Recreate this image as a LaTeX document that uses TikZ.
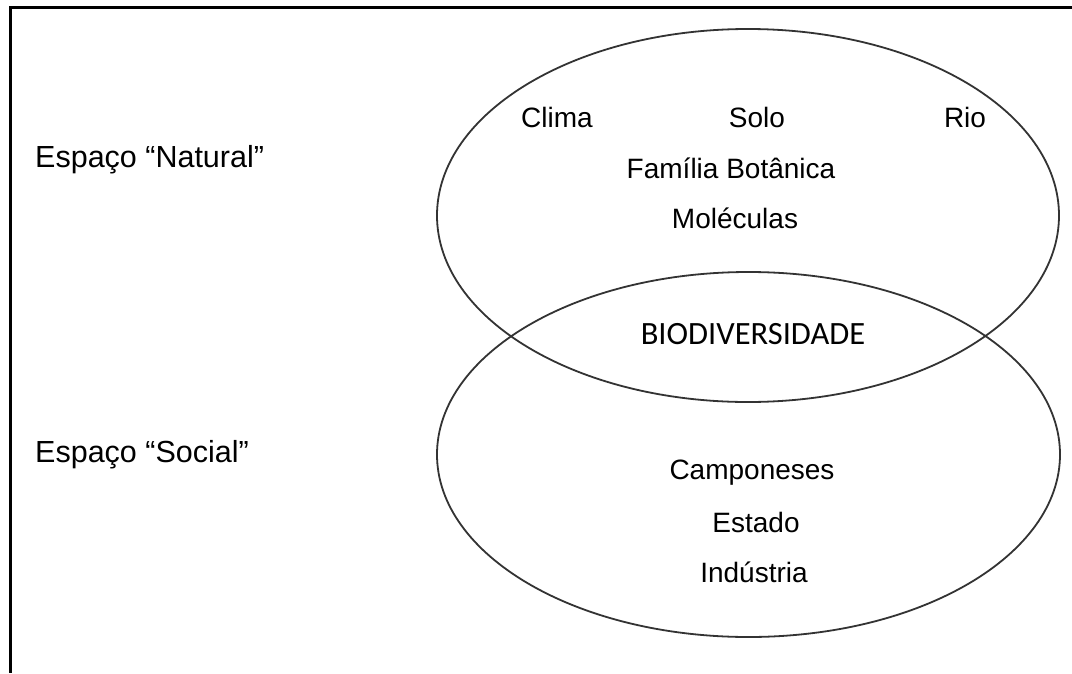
\documentclass[tikz,border=0pt]{standalone}
\usepackage{fontspec}
\setmainfont{Liberation Sans}
\newfontfamily\calfont{Carlito}
\usetikzlibrary{shapes.geometric}
\begin{document}
\begin{tikzpicture}[x=1pt,y=-1pt,
  frameline/.style={line width=3pt,black},
  oval/.style={draw=black!80,line width=1.8pt},
  inner/.style={font=\fontsize{28}{34}\selectfont,inner sep=0pt},
  side/.style={font=\fontsize{30.5}{36}\selectfont,inner sep=0pt,anchor=west},
  bio/.style={font=\calfont\fontsize{32.5}{38}\selectfont,inner sep=0pt}]
\useasboundingbox (0,0) rectangle (1072,673);
\fill[white] (0,0) rectangle (1072,673);
% frame
\coordinate (fa) at (1072,7);
\coordinate (fb) at (10,7);
\coordinate (fc) at (10,673);
\draw[frameline] (fa) -- (fb) -- (fc);
% ellipses
\node[oval,ellipse,minimum width=622pt,minimum height=373pt,inner sep=0pt] (nat) at (748,215.5) {};
\node[oval,ellipse,minimum width=623pt,minimum height=365pt,inner sep=0pt] (soc) at (748.5,454.5) {};
% side labels
\node[side] (ln) at (35,160) {Espaço “Natural”};
\node[side] (ls) at (35,455) {Espaço “Social”};
% natural
\node[inner] (clima) at (557,117) {Clima};
\node[inner] (solo) at (757,117) {Solo};
\node[inner] (rio) at (965,117) {Rio};
\node[inner] (fam) at (731,168) {Família Botânica};
\node[inner] (mol) at (735,218) {Moléculas};
% intersection
\node[bio] (biod) at (753,334) {BIODIVERSIDADE};
% social
\node[inner] (camp) at (752,473) {Camponeses};
\node[inner] (est) at (756,522) {Estado};
\node[inner] (ind) at (754,572) {Indústria};
\end{tikzpicture}
\end{document}
